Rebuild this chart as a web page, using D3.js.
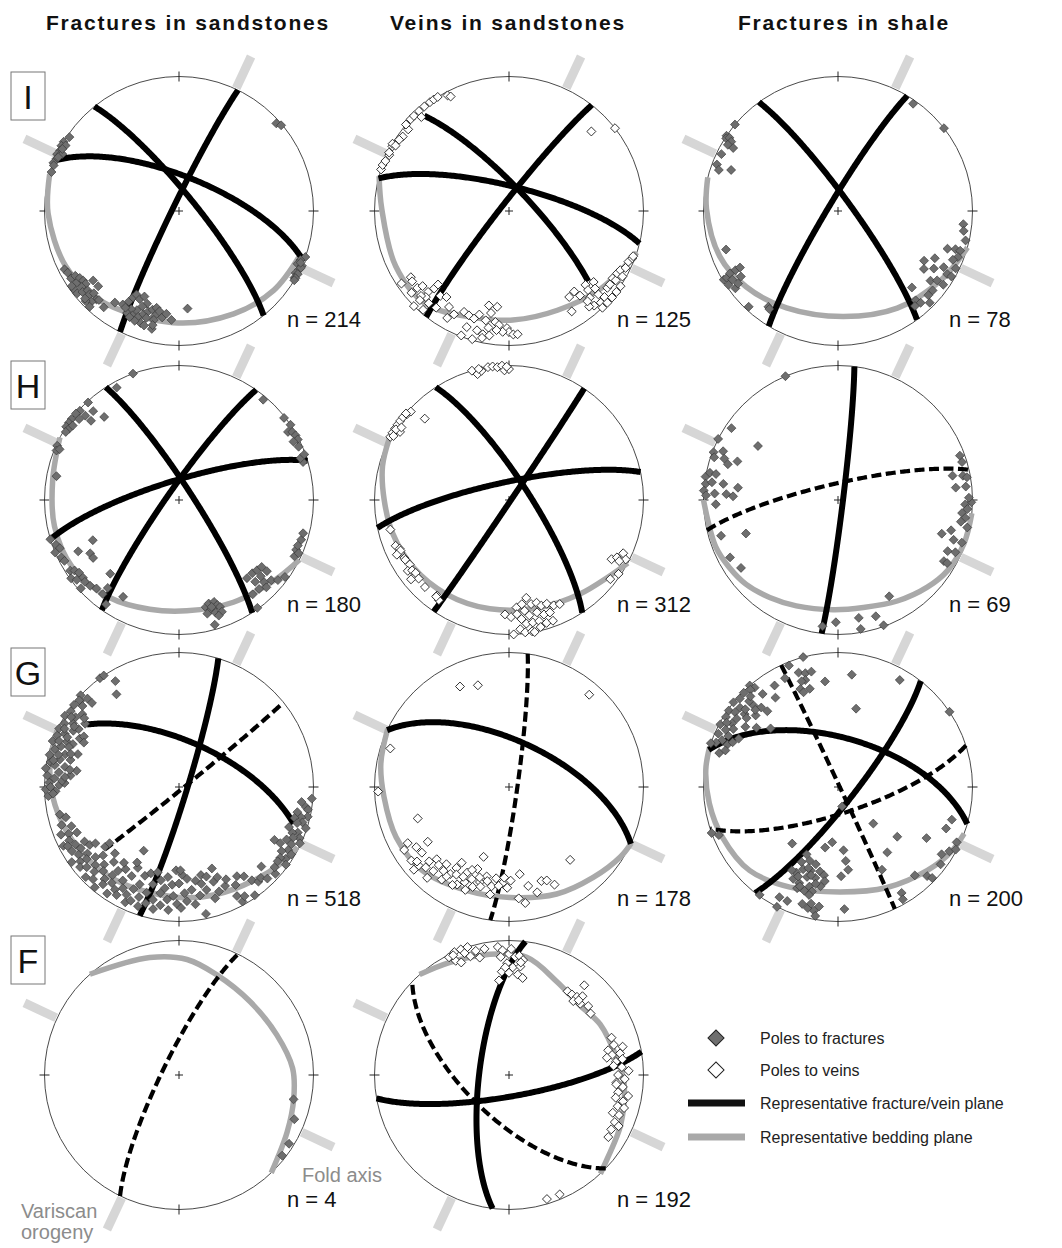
<!DOCTYPE html>
<html>
<head>
<meta charset="utf-8">
<script src="https://cdnjs.cloudflare.com/ajax/libs/d3/7.8.5/d3.min.js"></script>
<style>
  body { margin: 0; background: #fff; }
  svg { display: block; font-family: Arial, "Liberation Sans", Helvetica, sans-serif; }
</style>
</head>
<body>
<svg id="fig" width="1062" height="1248"></svg>
<script>
// ---------- data ----------
const columnTitles = ["Fractures in sandstones", "Veins in sandstones", "Fractures in shale"];
const rowLabels = ["I", "H", "G", "F"];
const sampleCounts = [[214, 125, 78], [180, 312, 69], [518, 178, 200], [4, 192, null]];
const poleKinds = ["fracture", "vein", "fracture"];
// trends of the Variscan fold-axis markers (degrees)
const foldAxisTrends = [25, 205, 115, 295];

// representative fracture / vein planes: [dip direction, dip, style, rake from, rake to]
const planesI1 = [[51, 80, "solid"], [296, 86, "solid"], [22, 69, "solid"]];
const planesI2 = [[47, 77, "solid", 6, 157], [308, 85, "solid"], [14, 75, "solid"]];
const planesI3 = [[54, 82, "solid"], [301, 84, "solid"]];
const planesH1 = [[57, 82, "solid"], [305, 83, "solid"], [343, 78, "solid"]];
const planesH2 = [[57, 78, "solid"], [124, 89, "solid"], [348, 79, "solid"]];
const planesH3 = [[97, 87, "solid"], [347, 80, "dashed"]];
const planesG1 = [[107, 85, "solid"], [24, 62, "solid", 21, 167], [141, 88, "dashed", 4, 151]];
const planesG2 = [[25, 62, "solid"], [98, 85, "dashed"]];
const planesG3 = [[128, 80, "solid"], [16, 60, "solid"], [65, 89, "dashed"], [162, 74, "dashed"]];
const planesF1 = [[296, 80, "dashed"]];
const planesF2 = [[277, 72, "solid"], [170, 77, "solid"], [224, 64, "dashed"]];

// representative bedding traces: [trend, plunge] vertices
const beddingI1 = [[286,0],[269,3],[244,7],[222,12],[183,18],[152,14.5],[130,9],[111,5]];
const beddingI2 = [[285,0],[271,6],[244,7],[222,8],[199,17.5],[178,20],[154,19],[130,11.5],[108,0]];
const beddingI3 = [[284.5,0],[271,2.5],[249,6.5],[230.5,12.5],[208,19.5],[177,22.5],[148.6,16.5],[123.7,8.5],[105.7,0]];
const beddingH1 = [[297.7,0],[279,5.5],[258,6],[238,7],[215.5,12],[195,17],[176,18.5],[152,15],[130,8],[116.4,0]];
const beddingH2 = [[297,0],[285,3],[270,8],[254,11],[235,14],[214,17],[190,19],[164,18],[143,13.5],[128,7.5],[118,0]];
const beddingH3 = [[270,0],[249,3],[238,5.5],[227.6,8],[215,12.5],[201.5,16.5],[182.5,19.5],[166.7,19],[149.6,14],[134.3,8],[122.8,3.5],[109,1],[95.7,0]];
const beddingG1 = [[295,0],[280,3],[265.6,6.5],[249,11],[230,15],[210,18],[179.5,19],[160.5,16.5],[141.4,12],[127,6],[116.9,1.5]];
const beddingG2 = [[295.6,0],[280.5,3.5],[265.5,7.5],[246,9],[226,11.5],[202,18],[179.5,19],[156,14],[137,9],[122,2.5],[114.7,0]];
const beddingG3 = [[287.5,0],[277.4,1],[262.7,4],[246.6,7],[226.7,10.5],[205.7,18.5],[179,23],[154,18],[133,10],[120,3.5],[110.3,0]];
const beddingF1 = [[318.5,0],[346,11],[4,15],[20.7,21.5],[44,25],[67.7,22.5],[86.6,16.5],[101.5,14],[117.8,10],[136.7,0]];
const beddingF2 = [[318.3,0],[332,6],[351,10],[8.6,12.5],[27,23],[45.4,27],[61,23.5],[81,20],[93.4,15.5],[114,10],[130.5,4.5],[137.2,0]];

// poles to fractures / veins: "trend/plunge" pairs
const polesI1 = `304/2 301/0 299/0 297/1 295/0 296/3 293/1 291/0 290/1 287/1 300/3 296/4 298/2 294/2
48/3 50/1
110/0 112/3 114/4 114/0 116/1 115/0 118/2 118/0 120/1 120/0 121/0 113/2
243/5 241/6 238/6 238/10 235/8 236/12 234/13 232/13 232/9 233/3 231/3 230/7 229/11 227/10 226/13 223/11 224/7 226/4 223/3 227/19 231/19 235/3 227/5 222/12 218/10 215/18
211/20 209/24 208/28 207/31 204/29 202/32 199/28 201/25 203/21 206/20 207/16 204/16 201/17 199/20 197/23 195/25 193/21 193/27 191/25 193/18 197/18 199/13 202/13 197/12 193/11 209/19 205/14 189/21 187/24 175/28 184/20 193/14`;

const polesI2 = `288/0 290/0 292/1 295/2 299/1 300/0 300/3 305/4 309/4 310/0 313/0 315/0 318/0 317/5 321/0 324/0 326/0 328/0 332/3 333/5 296/1 303/3
46/16 52/0
236/4 236/13 234/12 230/12 229/16 225/16 224/21 224/25 224/12 226/10 225/0 225/7 221/10 219/20 216/22 212/17 217/11 230/6 221/3 210/9 208/14 204/19 201/18 198/17 196/21 192/29 187/29 190/24 192/18 187/18 185/16 181/14 180/11 183/11 186/12 190/13 192/7 195/9 200/9 201/1 196/1 192/4 189/7 178/9 176/9
145/23 148/13 141/24 140/19 134/22 135/18 137/13 130/19 132/15 133/10 135/4 132/5 128/8 126/8 123/9 123/6 120/8 118/7 120/3 116/4 113/4 111/2 110/2 124/0 127/0 130/0 133/0 136/0 138/6 140/8 139/12`;

const polesI3 = `310/0 304/0 303/1 304/3 303/6 301/5 301/10 296/4 291/4 289/7 291/16
35/3 52/0
251/13 239/1 239/4 240/8 240/13 240/17 237/7 236/2 233/5 234/9 236/14 223/3 216/13 215/12
96/7 99/6 103/3 109/15 108/9 108/5 111/5 113/8 120/27 116/21 118/12 124/24 121/18 120/7 116/3 127/15 125/11 120/3 125/5 136/22 130/9 133/9 139/13 138/9 141/10 135/4`;

const polesH1 = `340/0 331/5
317/1 312/1 310/0 307/0 305/0 303/0 303/3 301/2 305/4 309/5 312/7 316/9 312/13 318/18 294/1 292/2 293/4 281/8
40/3 52/1 56/0 58/5 59/2 61/1 63/1 63/5 66/3 73/4 71/5 70/1
253/0 250/3 248/5 247/0 244/3 242/4 245/30 243/17 239/24 236/24 237/4 236/7 234/9 231/9 234/1 232/4 229/8 228/2 226/9 223/11 219/17 219/11 223/26 215/6 210/18
166/19 164/21 161/21 160/18 159/16 164/16 162/13 159/12 166/14 161/10 164/4 163/18
139/24 135/24 132/23 129/22 129/17 133/18 137/18 134/13 131/10 135/9 138/12 142/12 129/6 126/3 116/5 113/6 111/6 108/5 105/5 114/3 144/1`;

const polesH2 = `344/0 346/4 348/2 351/0 353/0 355/1 357/0 358/4 360/3 359/1 347/0
298/0 300/0 302/0 304/0 306/0 308/0 310/1 312/2 310/0 302/5 302/1 314/14 299/2 304/4
256/10 248/10 246/12 244/11 241/12 240/12 237/13 235/9 234/12 232/13 229/12 224/11 245/12 244/8 231/7 217/12 215/10 217/11
182/16 179/14 176/21 173/23 170/27 168/22 165/22 163/19 160/19 157/16 154/15 172/18 170/14 166/15 163/12 160/12 174/12 172/8 169/8 166/8 163/5 175/4 173/1 170/1 178/0 169/0 176/16 166/3 160/5
120/13 118/10 115/7 117/3 119/7 128/5 124/2`;

const polesH3 = `337/0
304/5 297/0 291/1 293/8 290/11 289/3 291/21 304/29 288/15 280/0 282/3 282/8 277/1 278/6 278/15 274/0 272/2 273/9 273/18 272/23 277/26 268/10
253/10 250/28 242/10 235/13
70/4 73/4 78/14 79/6 80/3 84/13 84/5 91/1 92/6 94/4 96/8 98/5 100/8 102/2 108/20 105/14 109/10 109/3 115/11 114/5 120/10 120/7 89/3
152/20 187/6 181/10 170/12 170/3 162/10 160/1`;

const polesG1 = `266/3 269/1 272/4 275/2 278/0 281/3 284/1 287/4 290/0 293/2 296/1 299/3 302/0 305/2 308/1 311/3
268/9 271/12 274/8 277/11 280/7 283/10 286/13 289/8 292/11 295/7 298/12 301/9 304/8 307/11 310/7
272/16 276/20 280/15 284/18 288/22 292/16 296/19 300/15 304/17 279/24 290/14 298/21
270/5 273/14 282/5 285/8 291/5 294/10 297/5 300/11 303/5 306/14 279/19 287/17 295/23 267/7 275/16
313/0 314/6 314/11 324/0 326/0 329/9 326/18 311/2
257/10 255/14 252/9 250/16 248/6 247/12 246/18 244/10 243/4 241/13 240/20 242/7 239/8 238/15 237/22 236/11 235/3 234/17 233/9 236/26
232/14 231/6 230/20 229/10 228/25 227/16 226/4 231/30 225/12 224/21 223/7 222/17 221/27 220/3 219/13 224/32
218/9 217/19 216/24 215/14 214/5 213/28 212/11 216/31 211/20 210/8 209/15 208/26 207/33 206/12 205/6 209/36
204/18 203/9 202/23 201/30 200/14 199/7 198/33 197/19 196/11 195/26 194/35 193/15 192/8 191/30 190/21
189/12 188/25 187/33 186/17 185/9 184/28 183/20 182/38 181/14 180/29 179/11 178/35 177/22 176/16 175/32
173/24 172/13 170/30 169/19 168/4 167/27 166/33 165/22 163/31 162/14 160/26 159/18 158/35 157/28 155/20 153/24 152/9 151/3 150/17
149/6 147/22 145/2 144/19 142/13 140/9 138/10 136/6 134/16 132/4 130/8 209/45 231/34 179/38
95/1 97/9 99/5 100/3 102/11 103/2 104/7 105/12 106/5 107/9 108/1 110/14 111/6 112/10 113/3 114/8 115/1 116/12 117/7 119/15 119/20 120/7 121/3 122/11 124/5 125/9 127/9 126/2`;

const polesG2 = `334/18 343/22 41/10 288/8 268/3 251/29 140/30 173/35 169/26 165/20 161/27 158/26 155/21 175/18 172/14
241/15 239/10 233/10 237/19 233/20 236/28 229/12 227/20 225/25 222/23 219/27 214/23 213/29 212/34 206/30 202/27 201/35 197/27 200/44 194/32 190/26 188/32 184/29 181/26 179/31 208/19 216/16 222/17 222/10 229/7 200/22 190/20 205/23
211/25 215/20 218/22 207/26 204/33 198/30 193/29 186/27 183/33 196/24 226/15 231/13 210/17 203/18`;

const polesG3 = `319/0 320/4 321/12 315/1 312/2 309/0 314/9 314/14 316/19 317/24 328/12 325/20 305/1 306/6 308/13 311/20 302/2 298/1 301/9 303/19 306/26 311/34 294/3 295/11 296/19 292/8 290/4 291/13 299/12 309/7 318/3 286/9 288/13 289/0
300/5 304/10 307/16 297/7 293/16 313/17 316/7 310/11
345/0 338/3 334/11 341/11 344/13 347/13 343/18 344/25 339/23 340/26 341/18 353/22 7/17 13/40 30/9 56/0
250/0 248/5
219/45 205/44 206/38 201/41 196/40 192/36 198/35 203/34 206/30 199/30 194/31 189/34 202/24 196/24 190/26 206/25 202/20 198/20 194/21 192/52 186/56 175/51 174/44 173/38 178/34 177/10 197/10 194/8 191/7 189/11 193/12 190/3 208/8 204/8 207/0 216/1 168/78
200/36 204/28 197/32 193/27 201/22 209/30 195/18 188/30
136/59 130/42 143/39 152/31 139/14 120/25 135/7 134/3 123/9 127/5 111/15 106/13 120/5 115/3 118/1 149/9 150/4`;

const polesF1 = `102/14 111/9 122/4 128/3`;

const polesF2 = `333/2 336/0 339/0 340/4 342/0 342/8 345/5 346/11 349/5 335/7 337/10 335/2 355/5 357/8 360/11 1/7 3/13 5/12 7/15 356/13 359/18 2/21 6/20 5/26 356/24 354/30 360/25 8/28 358/21 6/17
35/25 38/25 41/24 43/21 40/14 45/26 49/23 53/25 41/28 43/25
70/20 74/20 76/14 76/25 79/23 79/17 80/27 83/21 82/16 85/23 86/17 88/12 90/20 92/15 94/21 96/16 99/19 100/11 102/20 103/14 106/17 106/12 110/19 110/14 114/15 115/11 118/15 122/14 95/21
163/4 157/4`;

// ---------- layout ----------
const W = 1062, H = 1248;
const R = 134.5;
const colX = [179, 509, 838];
const rowY = [211, 500, 787, 1075];
const titleX = [188, 508, 844];
const nOffsetX = [108, 108, 111];
const nOffsetY = [116, 112, 119, 132];

const panels = [
  { r: 0, c: 0, planes: planesI1, bedding: beddingI1, poles: polesI1 },
  { r: 0, c: 1, planes: planesI2, bedding: beddingI2, poles: polesI2 },
  { r: 0, c: 2, planes: planesI3, bedding: beddingI3, poles: polesI3 },
  { r: 1, c: 0, planes: planesH1, bedding: beddingH1, poles: polesH1 },
  { r: 1, c: 1, planes: planesH2, bedding: beddingH2, poles: polesH2 },
  { r: 1, c: 2, planes: planesH3, bedding: beddingH3, poles: polesH3 },
  { r: 2, c: 0, planes: planesG1, bedding: beddingG1, poles: polesG1 },
  { r: 2, c: 1, planes: planesG2, bedding: beddingG2, poles: polesG2 },
  { r: 2, c: 2, planes: planesG3, bedding: beddingG3, poles: polesG3 },
  { r: 3, c: 0, planes: planesF1, bedding: beddingF1, poles: polesF1 },
  { r: 3, c: 1, planes: planesF2, bedding: beddingF2, poles: polesF2 }
];

const BLACK = "#000";
const BEDDING = "#a9a9a9";
const FOLD = "#d6d6d6";
const FILL = "#6e6e6e";

const svg = d3.select("#fig");
svg.append("rect").attr("width", W).attr("height", H).attr("fill", "#fff");

const parsePoles = s => s.trim().split(/\s+/).map(t => t.split("/").map(Number));
const rad = Math.PI / 180;

// lines lying in a plane, parametrised by rake from the strike direction
function planeTrace(dipDir, dip, rake0 = 0, rake1 = 180) {
  const S = (dipDir - 90) * rad, Dr = dipDir * rad, dr = dip * rad;
  const s = [Math.sin(S), Math.cos(S), 0];
  const d = [Math.cos(dr) * Math.sin(Dr), Math.cos(dr) * Math.cos(Dr), Math.sin(dr)];
  const out = [];
  for (let l = rake0; l <= rake1 + 1e-9; l += 1) {
    const c = Math.cos(l * rad), sn = Math.sin(l * rad);
    const v = [c * s[0] + sn * d[0], c * s[1] + sn * d[1], c * s[2] + sn * d[2]];
    const plunge = Math.asin(Math.max(0, Math.min(1, v[2]))) / rad;
    const trend = Math.atan2(v[0], v[1]) / rad;
    out.push([trend, plunge]);
  }
  return out;
}

const lineLin = d3.line();
const lineSmooth = d3.line().curve(d3.curveCatmullRom.alpha(0.5));
const diamond = d3.symbol(d3.symbolSquare);

// ---------- column titles ----------
columnTitles.forEach((t, i) => {
  svg.append("text")
    .attr("x", titleX[i]).attr("y", 30)
    .attr("text-anchor", "middle")
    .attr("font-size", 21).attr("font-weight", "bold")
    .attr("letter-spacing", 1.8)
    .attr("fill", "#111")
    .text(t);
});

// ---------- row labels ----------
rowLabels.forEach((t, i) => {
  const top = rowY[i] - 139;
  svg.append("rect").attr("x", 11).attr("y", top).attr("width", 34).attr("height", 48)
    .attr("fill", "#fff").attr("stroke", "#777").attr("stroke-width", 1);
  svg.append("text").attr("x", 28).attr("y", top + 37)
    .attr("text-anchor", "middle").attr("font-size", 34).attr("fill", "#111").text(t);
});

// ---------- stereonets ----------
panels.forEach(pn => {
  const cx = colX[pn.c], cy = rowY[pn.r];
  const g = svg.append("g");
  const proj = d3.geoAzimuthalEqualArea()
    .rotate([0, -90])
    .scale(R / Math.SQRT2)
    .translate([cx, cy]);
  const P = ([t, p]) => proj([180 - t, p]);

  // Variscan fold-axis markers
  foldAxisTrends.forEach(t => {
    const a = d3.pointRadial(t * rad, R + 1), b = d3.pointRadial(t * rad, R + 36);
    g.append("line")
      .attr("x1", cx + a[0]).attr("y1", cy + a[1]).attr("x2", cx + b[0]).attr("y2", cy + b[1])
      .attr("stroke", FOLD).attr("stroke-width", 9);
  });

  // primitive circle
  g.append("circle").attr("cx", cx).attr("cy", cy).attr("r", R)
    .attr("fill", "none").attr("stroke", "#4a4a4a").attr("stroke-width", 1);
  [0, 90, 180, 270].forEach(t => {
    const a = d3.pointRadial(t * rad, R - 5), b = d3.pointRadial(t * rad, R + 5);
    g.append("line")
      .attr("x1", cx + a[0]).attr("y1", cy + a[1]).attr("x2", cx + b[0]).attr("y2", cy + b[1])
      .attr("stroke", "#222").attr("stroke-width", 1);
  });
  g.append("path").attr("d", `M${cx - 4},${cy}H${cx + 4}M${cx},${cy - 4}V${cy + 4}`)
    .attr("stroke", "#222").attr("stroke-width", 1);

  // bedding
  g.append("path").attr("d", lineSmooth(pn.bedding.map(P)))
    .attr("fill", "none").attr("stroke", BEDDING).attr("stroke-width", 5.5);

  // fracture / vein planes
  pn.planes.forEach(([dd, dip, style, r0, r1]) => {
    const pts = planeTrace(dd, dip, r0 ?? 0, r1 ?? 180).map(P);
    const path = g.append("path").attr("d", lineLin(pts)).attr("fill", "none").attr("stroke", BLACK);
    if (style === "dashed") path.attr("stroke-width", 4.2).attr("stroke-dasharray", "10 4.5");
    else path.attr("stroke-width", 6);
  });

  // poles
  const kind = poleKinds[pn.c];
  parsePoles(pn.poles).forEach(d => {
    const [x, y] = P(d);
    g.append("path").attr("d", diamond.size(40)())
      .attr("transform", `translate(${x},${y}) rotate(45)`)
      .attr("fill", kind === "vein" ? "#fff" : FILL)
      .attr("stroke", kind === "vein" ? "#111" : "#333")
      .attr("stroke-width", kind === "vein" ? 0.8 : 0.6);
  });

  // sample count
  svg.append("text").attr("x", cx + nOffsetX[pn.c]).attr("y", cy + nOffsetY[pn.r])
    .attr("font-size", 22).attr("fill", "#111")
    .text("n = " + sampleCounts[pn.r][pn.c]);
});

// ---------- fold axis annotation ----------
svg.append("text").attr("x", 302).attr("y", 1182).attr("font-size", 20).attr("fill", "#8c8c8c").text("Fold axis");
svg.append("text").attr("x", 21).attr("y", 1218).attr("font-size", 20).attr("fill", "#8c8c8c").text("Variscan");
svg.append("text").attr("x", 21).attr("y", 1239).attr("font-size", 20).attr("fill", "#8c8c8c").text("orogeny");

// ---------- legend ----------
const legend = svg.append("g");
const legendItems = [
  { type: "fracture", label: "Poles to fractures", y: 1038 },
  { type: "vein", label: "Poles to veins", y: 1070 },
  { type: "plane", label: "Representative fracture/vein plane", y: 1103 },
  { type: "bedding", label: "Representative bedding plane", y: 1137 }
];
legendItems.forEach(it => {
  if (it.type === "fracture" || it.type === "vein") {
    legend.append("path").attr("d", diamond.size(130)())
      .attr("transform", `translate(716,${it.y}) rotate(45)`)
      .attr("fill", it.type === "vein" ? "#fff" : FILL)
      .attr("stroke", "#222").attr("stroke-width", 1);
  } else {
    legend.append("line").attr("x1", 688).attr("x2", 745).attr("y1", it.y).attr("y2", it.y)
      .attr("stroke", it.type === "plane" ? "#111" : BEDDING).attr("stroke-width", 7);
  }
  legend.append("text").attr("x", 760).attr("y", it.y + 6)
    .attr("font-size", 16).attr("fill", "#222").text(it.label);
});
</script>
</body>
</html>
